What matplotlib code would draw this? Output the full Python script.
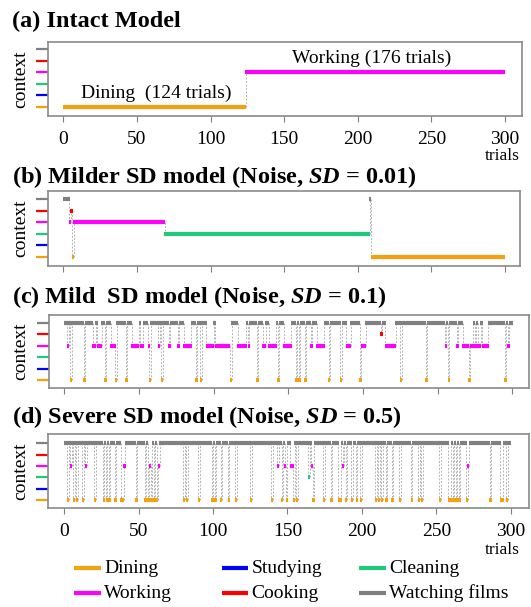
import numpy as np
import matplotlib
matplotlib.use("Agg")
import matplotlib.pyplot as plt
from matplotlib.lines import Line2D

plt.rcParams['font.family'] = ['Liberation Serif', 'DejaVu Serif']
plt.rcParams['mathtext.fontset'] = 'custom'
plt.rcParams['mathtext.it'] = 'Liberation Serif:italic:bold'
plt.rcParams['mathtext.rm'] = 'Liberation Serif:bold'

# ---------------- data ----------------
contexts = ["Dining", "Studying", "Cleaning", "Working", "Cooking", "Watching films"]
colors = ["#F5A10F", "#0000FF", "#1FCB7A", "#FF00FF", "#FF0000", "#808080"]
n_trials = 300

# (a) intact model: runs
a_ctx = ["Dining", "Working"]
a_len = [124, 176]

# (b) milder SD model: runs
b_ctx = ["Watching films", "Working", "Cooking", "Dining", "Working", "Cleaning",
         "Watching films", "Dining"]
b_len = [4, 1, 1, 1, 62, 139, 1, 91]

# (c) mild SD model: trials in each context (all other trials: Watching films)
c_dining = [5, 14, 28, 35, 42, 58, 66, 89, 92, 112, 130, 144, 156, 158, 162, 178,
            186, 199, 226, 243, 258, 272, 296]
c_working = [3, 20, 21, 23, 24, 25, 32, 33, 34, 46, 47, 48, 49, 50, 52, 53, 57, 64,
             71, 77, 81, 82, 83, 84, 85, 96, 97, 98, 99, 100, 102, 103, 104, 105,
             106, 107, 108, 109, 110, 111, 117, 118, 119, 120, 121, 122, 124, 134,
             135, 138, 139, 140, 141, 142, 148, 149, 150, 151, 152, 166, 170, 171,
             172, 173, 174, 190, 191, 192, 200, 201, 202, 216, 217, 218, 219, 220,
             221, 222, 256, 264, 268, 269, 270, 271, 273, 274, 276, 278, 279, 281,
             282, 283, 284, 298]
c_cooking = [213]
c_cleaning = []

# (d) severe SD model
d_dining = [3, 7, 9, 13, 21, 27, 29, 31, 35, 39, 40, 49, 55, 57, 59, 61, 63, 81, 83,
            91, 100, 102, 106, 111, 116, 126, 140, 147, 150, 155, 157, 168, 175, 180,
            185, 186, 190, 194, 197, 200, 210, 212, 214, 217, 221, 226, 234, 239, 241,
            253, 259, 260, 262, 264, 266, 271, 287, 294, 295, 298]
d_working = [5, 15, 41, 58, 64, 144, 149, 153, 154, 167, 188, 272]
d_cooking = []
d_cleaning = [165]

x_ticks = [0, 50, 100, 150, 200, 250, 300]


def from_runs(ctx, lens):
    seq = []
    for c, n in zip(ctx, lens):
        seq += [c] * n
    return seq


def from_events(default, events):
    seq = [default] * n_trials
    for c, trials in events.items():
        for t in trials:
            seq[t - 1] = c
    return seq


seq_a = from_runs(a_ctx, a_len)
seq_b = from_runs(b_ctx, b_len)
seq_c = from_events("Watching films", {"Dining": c_dining, "Working": c_working,
                                       "Cooking": c_cooking, "Cleaning": c_cleaning})
seq_d = from_events("Watching films", {"Dining": d_dining, "Working": d_working,
                                       "Cooking": d_cooking, "Cleaning": d_cleaning})

# ---------------- figure ----------------
W, H = 531, 607
fig = plt.figure(figsize=(W / 100, H / 100), dpi=100)


def fx(px):
    return px / W


def fy(py):
    return 1 - py / H


def make_axes(l, r, t, b):
    return fig.add_axes([fx(l), fy(b), (r - l) / W, (b - t) / H])


def draw(ax, seq, xlim, ylim, labels):
    levels = np.array([contexts.index(c) + 1 for c in seq])
    t = np.arange(1, len(seq) + 1)
    change = np.flatnonzero(np.diff(levels))
    starts = np.r_[0, change + 1]
    ends = np.r_[change, len(seq) - 1]
    ext = 0.3
    for s, e in zip(starts, ends):
        lv = levels[s]
        ax.plot([t[s] - 1 - ext, t[e] + ext], [lv, lv], color=colors[lv - 1], lw=3,
                solid_capstyle='butt', zorder=3)
    for i in change:
        ax.plot([t[i], t[i]], [levels[i], levels[i + 1]], color='#B5B5B5', lw=0.7,
                ls=(0, (2.0, 1.6)), zorder=2)
    ax.set_xlim(*xlim)
    ax.set_ylim(*ylim)
    ax.set_yticks(range(1, 7))
    ax.set_yticklabels([])
    ax.tick_params(axis='y', length=9, width=1.6, direction='out')
    for tick, c in zip(ax.yaxis.get_major_ticks(), colors):
        tick.tick1line.set_markeredgecolor(c)
    ax.set_xticks(x_ticks)
    ax.tick_params(axis='x', length=4.3, width=0.8, color='#808080', labelsize=14,
                   pad=6.5)
    if not labels:
        ax.set_xticklabels([])
    for sp in ax.spines.values():
        sp.set_color('#8a8a8a')
        sp.set_linewidth(1.2)


panels = [
    (seq_a, (48.3, 521.7, 42, 115.7), (-10.2, 311.4), (0.25, 6.63), True),
    (seq_b, (48.3, 520.0, 191, 266), (-10.2, 310.2), (0.19, 6.72), False),
    (seq_c, (49.0, 529.0, 315, 388.3), (-10.3, 311.3), (0.30, 6.67), False),
    (seq_d, (48.3, 529.3, 434, 508.3), (-10.75, 312.5), (0.29, 6.80), True),
]
axes = []
for seq, box, xl, yl, lab in panels:
    ax = make_axes(*box)
    draw(ax, seq, xl, yl, lab)
    axes.append(ax)
    fig.text(fx(21), fy((box[2] + box[3]) / 2), "context", rotation=90,
             ha='center', va='center', fontsize=14)

# panel (a) annotations
axes[0].text(62.8, 2.22, "Dining  (124 trials)", ha='center', va='center', fontsize=14)
axes[0].text(209.5, 5.25, "Working (176 trials)", ha='center', va='center', fontsize=14)

fig.text(fx(520), fy(156.5), "trials", ha='right', va='center', fontsize=12.5)
fig.text(fx(520), fy(550), "trials", ha='right', va='center', fontsize=12.5)

titles = [
    ("(a) Intact Model", 27.3),
    ("(b) Milder SD model (Noise, $SD$ = 0.01)", 182.7),
    ("(c) Mild  SD model (Noise, $SD$ = 0.1)", 302.7),
    ("(d) Severe SD model (Noise, $SD$ = 0.5)", 422.7),
]
for txt, base in titles:
    fig.text(fx(11.7), fy(base), txt, ha='left', va='baseline', fontsize=17.5,
             fontweight='bold')

# legend (manual)
legend_rows = [["Dining", "Studying", "Cleaning"],
               ["Working", "Cooking", "Watching films"]]
col_x = [74, 221.7, 359]
row_y = [568.3, 593.3]
for r, row in enumerate(legend_rows):
    for c, name in enumerate(row):
        y = fy(row_y[r])
        x0 = col_x[c]
        fig.add_artist(Line2D([fx(x0), fx(x0 + 26.7)], [y, y], color=colors[contexts.index(name)],
                              lw=3, solid_capstyle='butt', transform=fig.transFigure))
        fig.text(fx(x0 + 30), y, name, ha='left', va='center', fontsize=14)

fig.savefig("out.png", dpi=100)
